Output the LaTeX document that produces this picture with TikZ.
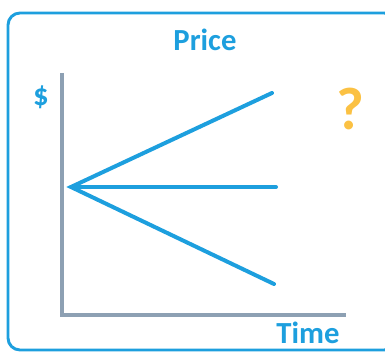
\documentclass[tikz,border=0pt]{standalone}
\usepackage{fontspec}
\setmainfont{Carlito}
\usepackage{tikz}
\usetikzlibrary{positioning}
\usepackage{xcolor}
\definecolor{priceblue}{RGB}{29,159,222}
\definecolor{axisgray}{RGB}{141,160,179}
\definecolor{askyellow}{RGB}{251,193,67}

\begin{document}
\begin{tikzpicture}[x=0.75pt, y=-0.75pt]
            \tikzstyle{frame} = [draw=priceblue, line width=2.2pt, rounded corners=9pt]
            \tikzstyle{axis} = [draw=axisgray, line width=3pt]
            \tikzstyle{trend} = [draw=priceblue, line width=3pt, line cap=round]
            \tikzstyle{label} = [text=priceblue, font=\fontsize{23}{26}\selectfont\bfseries, inner sep=0pt]

            \useasboundingbox (0,0) rectangle (385,352);
            \clip (0,0) rectangle (385,352);
            \path [frame] (8,13) rectangle (396,350);

            \node [label] (title) at (205,40) {Price};
            \node [label] (dollar) at (41,97) {\$};
            \node [label] (time) at (308,333) {Time};
            \node [text=askyellow, font=\fontsize{45}{48}\selectfont\bfseries, inner sep=0pt] (ask) at (350,109) {?};

            % axes
            \coordinate (top) at (62,73);
            \coordinate (corner) at (62,315);
            \coordinate (right) at (346,315);
            \path [axis] (top) -- (corner) -- (right);

            % three possible paths
            \coordinate (start) at (71,187);
            \coordinate (up) at (272,93);
            \coordinate (flat) at (276,187);
            \coordinate (down) at (274,284);
            \path [trend] (up) -- (start) -- (down);
            \path [trend] (start) -- (flat);
        \end{tikzpicture}
\end{document}
